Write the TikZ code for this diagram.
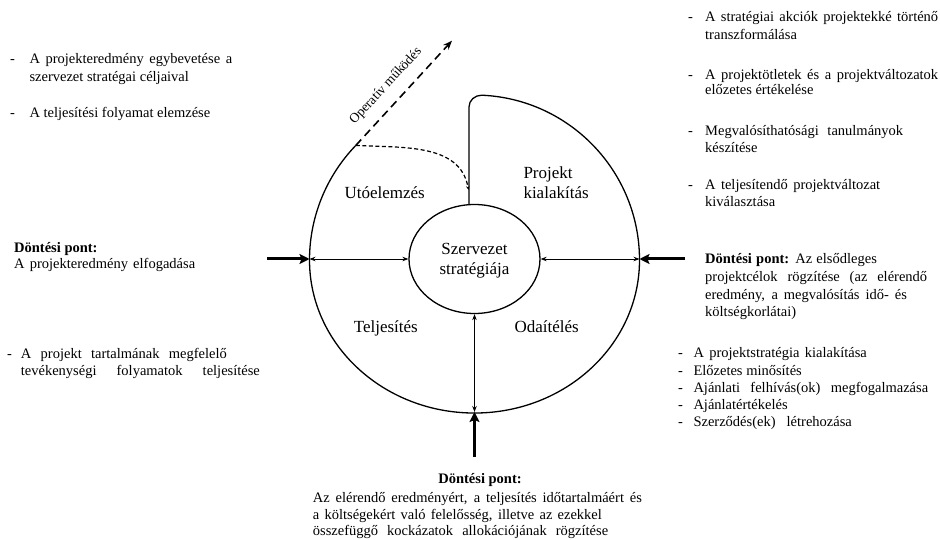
\documentclass[tikz,border=0pt]{standalone}
\usepackage{fontspec}
\setmainfont{Liberation Serif}
\usetikzlibrary{arrows.meta,shapes.geometric}
\newcommand{\jl}[2]{\makebox[#1pt][s]{#2}}
\begin{document}
\begin{tikzpicture}[x=1pt,y=1pt,
  side/.style={font=\fontsize{14.5}{17}\selectfont, inner sep=0pt, anchor=base west},
  sidec/.style={font=\fontsize{14.5}{17}\selectfont, inner sep=0pt, anchor=base},
  lbl/.style={font=\fontsize{17}{20}\selectfont, inner sep=0pt, anchor=base},
  lblw/.style={font=\fontsize{17}{20}\selectfont, inner sep=0pt, anchor=base west},
  outline/.style={line width=1.3pt},
  thinarrow/.style={line width=0.9pt, {Stealth[length=6pt,width=4.5pt]}-{Stealth[length=6pt,width=4.5pt]}},
  thickarrow/.style={line width=3pt, -{Stealth[length=10pt,width=10pt,inset=2pt]}},
]
\useasboundingbox (0,0) rectangle (940,539);

% inner ellipse
\node[draw, ellipse, line width=1.3pt, minimum width=131pt, minimum height=109pt, inner sep=0pt] (core) at (474.5,280) {};

% coordinates on outer shape
\coordinate (L) at (309.5,280);
\coordinate (R) at (639.5,280);
\coordinate (B) at (474.5,127);

% outer shape with divider
\draw[outline] ([xshift=-5.5pt]core.north) -- (469,432) to[out=90,in=180] (481.7,443.8)
  arc[start angle=87.5,end angle=0,radius=165pt]
  arc[start angle=0,end angle=-180,x radius=165pt,y radius=153pt]
  arc[start angle=180,end angle=136,radius=165pt] coordinate (P);

% dashed inner curve
\coordinate (D) at (468.5,349);
\draw[line width=1.2pt, dash pattern=on 4pt off 2.5pt, -{Stealth[length=4pt,width=3.5pt]}] (P) to[out=-3,in=100] (D);

% operative arrow
\coordinate (Op) at (452,498.3);
\draw[line width=1.6pt, dash pattern=on 8pt off 5pt, -{Stealth[length=9pt,width=7pt]}] (P) -- (Op)
  node[pos=0.45, sloped, above=11pt, inner sep=0pt, font=\fontsize{13.5}{16}\selectfont] (oplabel) {Operatív működés};

% thin arrows
\draw[thinarrow] (L) -- (core.west);
\draw[thinarrow] (core.east) -- (R);
\draw[thinarrow] (core.south) -- (B);

% thick arrows
\coordinate (Lin) at (267,280);
\coordinate (Rin) at (685,280);
\coordinate (Bin) at (474.5,82);
\draw[thickarrow] (Lin) -- (L);
\draw[thickarrow] (Rin) -- (R);
\draw[thickarrow] (Bin) -- (B);

% inner labels
\node[lbl] (ut) at (384.7,340.2) {Utóelemzés};
\node[lblw] (pk1) at (523.3,360.2) {Projekt};
\node[lblw] (pk2) at (523.3,340.2) {kialakítás};
\node[lbl] (sz1) at (474.5,284.5) {Szervezet};
\node[lbl] (sz2) at (474.5,264.5) {stratégiája};
\node[lbl] (te) at (385.8,206.9) {Teljesítés};
\node[lbl] (od) at (546.7,206.9) {Odaítélés};

% top-left texts
\node[side] (tl1d) at (10,475.5) {-};
\node[side] (tl1) at (29.3,475.5) {\jl{202.7}{A projekteredmény egybevetése a}};
\node[side] (tl2) at (29.3,457) {szervezet stratégai céljaival};
\node[side] (tl3d) at (10,421.5) {-};
\node[side] (tl3) at (29.3,421.5) {A teljesítési folyamat elemzése};

% top-right texts
\node[side] (tr1d) at (688,517) {-};
\node[side] (tr1) at (705,517) {\jl{233}{A stratégiai akciók projektekké történő}};
\node[side] (tr2) at (705,499.5) {transzformálása};
\node[side] (tr3d) at (688,459.5) {-};
\node[side] (tr3) at (705,459.5) {\jl{233}{A projektötletek és a projektváltozatok}};
\node[side] (tr4) at (705,444) {előzetes értékelése};
\node[side] (tr5d) at (688,403) {-};
\node[side] (tr5) at (705,403) {\jl{198}{Megvalósíthatósági tanulmányok}};
\node[side] (tr6) at (705,386.5) {készítése};
\node[side] (tr7d) at (688,349) {-};
\node[side] (tr7) at (705,349) {\jl{175}{A teljesítendő projektváltozat}};
\node[side] (tr8) at (705,332) {kiválasztása};

% left middle texts
\node[side] (lm1) at (14,286.7) {\textbf{Döntési pont:}};
\node[side] (lm2) at (14,270) {\jl{181}{A projekteredmény elfogadása}};
\node[side] (lm3d) at (7,180.7) {-};
\node[side] (lm3) at (20.7,180.7) {\jl{206}{A projekt tartalmának megfelelő}};
\node[side] (lm4) at (20.7,164) {\jl{239}{tevékenységi folyamatok teljesítése}};

% right middle texts
\node[side] (rm1) at (705,275.7) {\jl{171.7}{\textbf{Döntési pont:} Az elsődleges}};
\node[side] (rm2) at (705,257.3) {\jl{222}{projektcélok rögzítése (az elérendő}};
\node[side] (rm3) at (705,239.7) {\jl{201.7}{eredmény, a megvalósítás idő- és}};
\node[side] (rm4) at (705,222.3) {költségkorlátai)};
\node[side] (rb1d) at (678,181.7) {-};
\node[side] (rb1) at (693.3,181.7) {\jl{173.4}{A projektstratégia kialakítása}};
\node[side] (rb2d) at (678,164) {-};
\node[side] (rb2) at (693.3,164) {Előzetes minősítés};
\node[side] (rb3d) at (678,146.7) {-};
\node[side] (rb3) at (693.3,146.7) {\jl{234.7}{Ajánlati felhívás(ok) megfogalmazása}};
\node[side] (rb4d) at (678,129.7) {-};
\node[side] (rb4) at (693.3,129.7) {Ajánlatértékelés};
\node[side] (rb5d) at (678,112.3) {-};
\node[side] (rb5) at (693.3,112.3) {\jl{158.4}{Szerződés(ek) létrehozása}};

% bottom texts
\node[sidec] (bt0) at (480,55.7) {\textbf{Döntési pont:}};
\node[side] (bt1) at (312.7,36.3) {\jl{329}{Az elérendő eredményért, a teljesítés időtartalmáért és}};
\node[side] (bt2) at (312.7,19.7) {\jl{289}{a költségekért való felelősség, illetve az ezekkel}};
\node[side] (bt3) at (312.7,4) {\jl{295.3}{összefüggő kockázatok allokációjának rögzítése}};
\end{tikzpicture}
\end{document}
